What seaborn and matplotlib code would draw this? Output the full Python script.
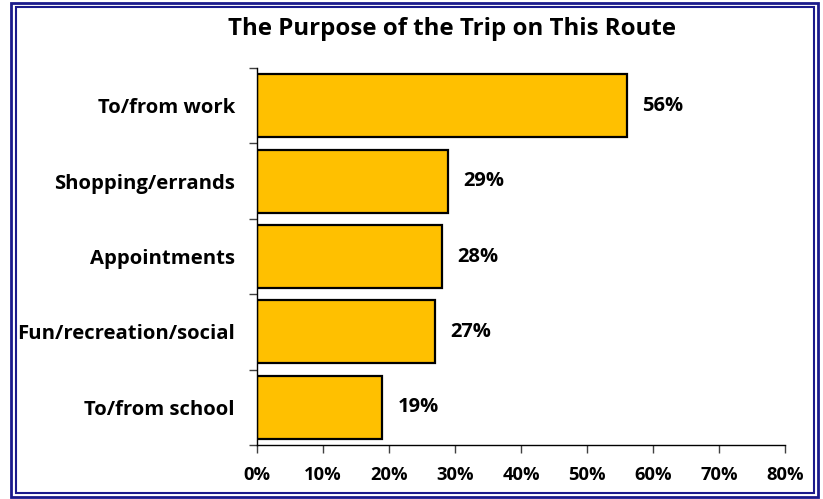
import matplotlib
matplotlib.use("Agg")
import matplotlib.pyplot as plt
from matplotlib.patches import Rectangle
import pandas as pd
import seaborn as sns

# values
purposes = ["To/from work", "Shopping/errands", "Appointments",
            "Fun/recreation/social", "To/from school"]
shares = [56, 29, 28, 27, 19]
x_ticks = [0, 10, 20, 30, 40, 50, 60, 70, 80]

sns.set_theme(style="white")
plt.rcParams["font.family"] = ["Open Sans", "DejaVu Sans"]
plt.rcParams["font.weight"] = "bold"
plt.rcParams["text.color"] = "black"
plt.rcParams["xtick.color"] = "black"
plt.rcParams["ytick.color"] = "black"

df = pd.DataFrame({"purpose": purposes, "share": shares})

fig = plt.figure(figsize=(8.23, 4.99), dpi=100)
ax = fig.add_axes([257 / 823, 1 - 445 / 499, 528 / 823, 377 / 499])

sns.barplot(data=df, x="share", y="purpose", color="#FFC000", saturation=1,
            edgecolor="black", linewidth=1.6, width=0.835, ax=ax)

ax.set_xlim(0, 80)
ax.set_ylim(4.5, -0.5)
ax.set_xticks(x_ticks)
ax.set_xticklabels([f"{t}%" for t in x_ticks], fontsize=13.2, fontweight="bold")
ax.tick_params(axis="x", length=6, width=1, color="#404040", pad=9, direction="out",
               bottom=True, labelcolor="black")
ax.tick_params(axis="y", which="major", length=0, pad=16, labelsize=14.6,
               labelcolor="black")
ax.set_yticks([i - 0.5 for i in range(6)], minor=True)
ax.tick_params(axis="y", which="minor", length=6, width=1, color="#404040", left=True)
for lab in ax.get_yticklabels():
    lab.set_fontweight("bold")

ax.set_xlabel("")
ax.set_ylabel("")
for side in ["top", "right"]:
    ax.spines[side].set_visible(False)
ax.spines["left"].set_color("black")
ax.spines["bottom"].set_color("black")
ax.spines["left"].set_linewidth(1.0)
ax.spines["bottom"].set_linewidth(1.0)

for container in ax.containers:
    ax.bar_label(container, labels=[f"{v}%" for v in shares], padding=11,
                 fontsize=14.5, fontweight="bold", color="black")

fig.text(452 / 823, 1 - 29 / 499, "The Purpose of the Trip on This Route",
         ha="center", va="center", fontsize=17.3, fontweight="bold", color="black")

# double navy frame around the whole chart
fig.patches.append(Rectangle((11 / 823, 2 / 499), 807 / 823, 494 / 499,
                             transform=fig.transFigure, fill=False,
                             edgecolor="#1A1A8C", linewidth=2.0))
fig.patches.append(Rectangle((16 / 823, 6 / 499), 798 / 823, 486 / 499,
                             transform=fig.transFigure, fill=False,
                             edgecolor="#1A1A8C", linewidth=1.5))

fig.savefig("out.png", dpi=100)
